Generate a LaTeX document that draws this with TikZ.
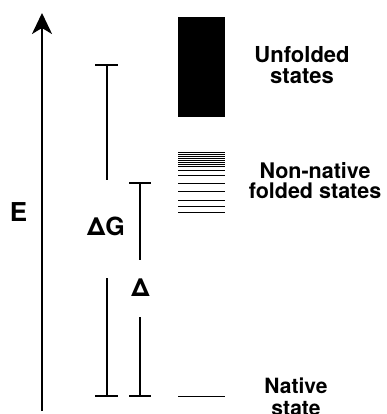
\documentclass[tikz,border=0pt]{standalone}
\usepackage{fontspec}
\setmainfont{TeX Gyre Heros}
\usetikzlibrary{arrows.meta}
\begin{document}
\begin{tikzpicture}[x=1pt,y=-1pt,
  lbl/.style={font=\bfseries\fontsize{22}{21}\selectfont, align=center, inner sep=0pt, anchor=north},
  sym/.style={font=\bfseries\fontsize{25}{25}\selectfont, inner sep=0pt},
  barline/.style={line width=1.8pt},
  thinbar/.style={line width=1.2pt},
  capline/.style={line width=1.5pt},
  lvl/.style={line width=1pt},
]
\useasboundingbox (0,0) rectangle (386,414);
% energy axis
\coordinate (axb) at (42,411);
\coordinate (axt) at (42,13);
\draw[line width=2.2pt, -{Stealth[length=21pt,width=20pt,inset=6pt]}] (axb) -- (axt);
\node[sym, font=\bfseries\fontsize{26}{26}\selectfont] (E) at (18.5,212) {E};

% Delta G bar
\coordinate (g1t) at (107,65);
\coordinate (g1m) at (107,180);
\coordinate (g2m) at (107,278);
\coordinate (g2b) at (107,396);
\coordinate (gcl) at (95,65);  \coordinate (gcr) at (118,65);
\coordinate (gbl) at (95,396); \coordinate (gbr) at (118,396);
\draw[barline] (g1t) -- (g1m);
\draw[barline] (g2m) -- (g2b);
\draw[capline] (gcl) -- (gcr);
\draw[capline] (gbl) -- (gbr);
\node[sym] (dG) at (106,226.5) {ΔG};

% Delta bar
\coordinate (d1t) at (140,183);
\coordinate (d1m) at (140,260);
\coordinate (d2m) at (140,317);
\coordinate (d2b) at (140,396);
\coordinate (dcl) at (129,183); \coordinate (dcr) at (151,183);
\coordinate (dbl) at (129,396); \coordinate (dbr) at (151,396);
\draw[thinbar] (d1t) -- (d1m);
\draw[thinbar] (d2m) -- (d2b);
\draw[capline] (dcl) -- (dcr);
\draw[capline] (dbl) -- (dbr);
\node[sym] (D) at (140.5,288) {Δ};

% unfolded states block
\fill (178,17) rectangle (225,117);
% non-native levels
\foreach \y in {152,154,156,158,160,162,164.3,166.7,170,175.7,183.3,191.7,200,206.7,212.5}
  \draw[lvl] (178,\y) -- (225,\y);
% native level
\draw[lvl] (178,396) -- (225,396);

% labels
\node[lbl] (unf) at (302,46) {Unfolded\\states};
\node[lbl, font=\bfseries\fontsize{21.5}{20}\selectfont] (nnf) at (315,162) {Non-native\\folded states};
\node[lbl, font=\bfseries\fontsize{21}{22}\selectfont] (nat) at (296,378) {Native\\state};
\end{tikzpicture}
\end{document}
